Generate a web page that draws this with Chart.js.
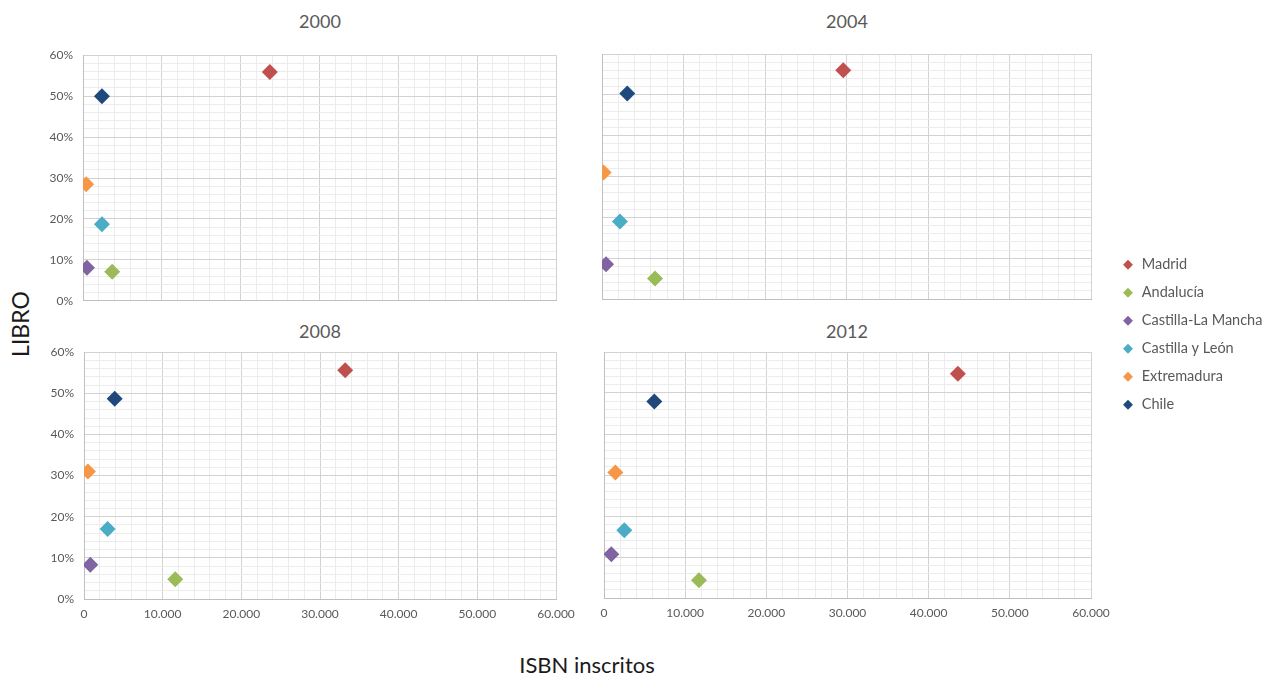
<!DOCTYPE html>
<html>
<head>
<meta charset="utf-8">
<script src="https://cdn.jsdelivr.net/npm/chart.js@4/dist/chart.umd.min.js"></script>
<style>
  html, body { margin:0; padding:0; background:#fff; }
  body { width:1265px; height:677px; position:relative; overflow:hidden; font-family: Lato, "Open Sans", sans-serif; }
  canvas { position:absolute; }
  .ptitle { position:absolute; font-size:18px; color:#595959; text-align:center; width:200px; }
  .atitle { position:absolute; font-size:22px; color:#1a1a1a; }
</style>
</head>
<body>
<div class="ptitle" style="left:220px; top:10px;">2000</div>
<div class="ptitle" style="left:747px; top:10px;">2004</div>
<div class="ptitle" style="left:220px; top:320px;">2008</div>
<div class="ptitle" style="left:747px; top:320px;">2012</div>
<div class="atitle" style="left:-20px; top:310px; transform:rotate(-90deg); width:80px; text-align:center; font-size:23px;">LIBRO</div>
<div class="atitle" style="left:437px; top:651px; width:300px; text-align:center;">ISBN inscritos</div>

<canvas id="c2000" width="586" height="280" style="left:0px; top:38px;"></canvas>
<canvas id="c2004" width="529" height="265" style="left:592px; top:44px;"></canvas>
<canvas id="c2008" width="586" height="298" style="left:0px; top:335px;"></canvas>
<canvas id="c2012" width="529" height="290" style="left:592px; top:342px;"></canvas>
<canvas id="cLegend" width="360" height="210" style="left:1108px; top:244px;"></canvas>

<script>
// ---- Data ----
const regions = ["Madrid", "Andalucía", "Castilla-La Mancha", "Castilla y León", "Extremadura", "Chile"];
const regionColors = ["#C0504D", "#9BBB59", "#8064A2", "#4BACC6", "#F79646", "#1F497D"];
const years = ["2000", "2004", "2008", "2012"];

// ISBN inscritos (x) per region, per year
const isbn2000 = [23700, 3700, 500, 2400, 400, 2400];
const isbn2004 = [29600, 6500, 500, 2200, 200, 3100];
const isbn2008 = [33200, 11600, 800, 3000, 500, 3900];
const isbn2012 = [43600, 11700, 900, 2500, 1400, 6200];

// LIBRO (%) (y) per region, per year
const libro2000 = [55.9, 7.1, 8.1, 18.7, 28.5, 50.0];
const libro2004 = [56.0, 5.0, 8.5, 19.0, 31.0, 50.3];
const libro2008 = [55.6, 4.8, 8.3, 17.0, 31.0, 48.7];
const libro2012 = [54.7, 4.3, 10.7, 16.5, 30.6, 47.9];

const xTickMax = 60000;
const yTickMax = 60;

// ---- helpers ----
const FONT = "Lato, 'Open Sans', sans-serif";
const TICK_COLOR = "#595959";
const MAJOR = "#d2d2d2";
const MINOR = "#ececec";

function fmtThousands(v) {
  return String(v).replace(/\B(?=(\d{3})+(?!\d))/g, ".");
}

function makePanel(id, xs, ys, showX, showY, yWidth, xHeight, padTop, padBottom) {
  const datasets = regions.map((r, i) => ({
    label: r,
    data: [{ x: xs[i], y: ys[i] }],
    pointStyle: "rectRot",
    pointRadius: 8,
    pointHoverRadius: 8,
    backgroundColor: regionColors[i],
    borderColor: regionColors[i],
    borderWidth: 0
  }));
  new Chart(document.getElementById(id), {
    type: "scatter",
    data: { datasets },
    options: {
      responsive: false,
      animation: false,
      devicePixelRatio: 1,
      layout: { padding: { top: padTop, bottom: padBottom, left: 0, right: 30 } },
      plugins: { legend: { display: false }, tooltip: { enabled: false }, title: { display: false } },
      scales: {
        x: {
          type: "linear",
          min: 0, max: xTickMax,
          afterFit: s => { s.height = xHeight; },
          border: { color: "#bfbfbf", width: 1 },
          grid: {
            drawTicks: false,
            color: c => (c.tick && c.tick.value % 10000 === 0) ? MAJOR : MINOR,
            lineWidth: 1
          },
          ticks: {
            display: showX,
            stepSize: 2000,
            autoSkip: false,
            maxRotation: 0,
            padding: 8,
            color: TICK_COLOR,
            font: { family: FONT, size: 12 },
            callback: v => (v % 10000 === 0 ? fmtThousands(v) : "")
          }
        },
        y: {
          type: "linear",
          min: 0, max: yTickMax,
          afterFit: s => { s.width = yWidth; },
          border: { color: "#bfbfbf", width: 1 },
          grid: {
            drawTicks: false,
            color: c => (c.tick && c.tick.value % 10 === 0) ? MAJOR : MINOR,
            lineWidth: 1
          },
          ticks: {
            display: showY,
            stepSize: 2,
            autoSkip: false,
            padding: 10,
            color: TICK_COLOR,
            font: { family: FONT, size: 12 },
            callback: v => (v % 10 === 0 ? v + "%" : "")
          }
        }
      }
    }
  });
}

makePanel("c2000", isbn2000, libro2000, false, true, 83, 0, 3, 3);
makePanel("c2004", isbn2004, libro2004, false, false, 10, 0, 10, 10);
makePanel("c2008", isbn2008, libro2008, true, true, 84, 24, 3, 10);
makePanel("c2012", isbn2012, libro2012, true, false, 12, 24, 10, 10);

// Legend chart (shared)
new Chart(document.getElementById("cLegend"), {
  type: "scatter",
  data: {
    datasets: regions.map((r, i) => ({
      label: r, data: [], pointStyle: "rectRot",
      backgroundColor: regionColors[i], borderColor: regionColors[i], borderWidth: 0
    }))
  },
  options: {
    responsive: false,
    animation: false,
    devicePixelRatio: 1,
    layout: { padding: 0 },
    scales: { x: { display: false }, y: { display: false } },
    plugins: {
      tooltip: { enabled: false },
      legend: {
        display: true,
        position: "left",
        align: "start",
        labels: {
          usePointStyle: true,
          boxWidth: 13,
          boxHeight: 7,
          padding: 13.5,
          color: TICK_COLOR,
          font: { family: FONT, size: 14.5 }
        }
      }
    }
  }
});
</script>
</body>
</html>
